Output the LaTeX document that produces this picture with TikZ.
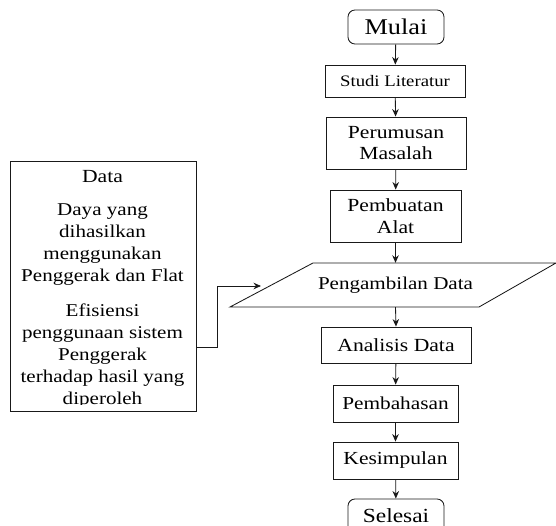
\documentclass[tikz,border=0pt]{standalone}
\usepackage{fontspec}
\setmainfont{Liberation Serif}[FakeStretch=1.17]
\usetikzlibrary{arrows.meta}
\begin{document}
\begin{tikzpicture}[x=1pt,y=-1pt,
  box/.style={draw=black!90, line width=0.85pt, inner sep=0pt, align=center},
  term/.style={box, rounded corners=7pt},
  arr/.style={draw=black!90, line width=0.85pt, -{Stealth[length=7.5pt,width=6.5pt]}},
]
\useasboundingbox (0,0) rectangle (556,526);
% main column
\node[term, minimum width=96pt, minimum height=34pt, font=\fontsize{22.5}{26}\selectfont] (mulai) at (396,27) {Mulai};
\node[box, minimum width=140pt, minimum height=32pt, font=\fontsize{16}{19}\selectfont] (studi) at (395,81) {Studi Literatur};
\node[box, minimum width=140pt, minimum height=52pt, font=\fontsize{18.5}{21}\selectfont] (rumus) at (396,143) {Perumusan\\Masalah};
\node[box, minimum width=131pt, minimum height=52pt, font=\fontsize{18.5}{22}\selectfont] (alat) at (395.5,216) {Pembuatan\\Alat};
\node[inner sep=0pt, minimum width=10pt, minimum height=44pt, font=\fontsize{18}{21}\selectfont] (pd) at (395.5,285) {Pengambilan Data};
\draw[black!90, line width=0.85pt] (pd.center) ++(-82.5,-22) -- ++(243,0) -- ++(-77,44) -- ++(-249,0) -- cycle;
\node[box, minimum width=150pt, minimum height=36pt, font=\fontsize{18.5}{21}\selectfont] (analisis) at (396,345) {Analisis Data};
\node[box, minimum width=125pt, minimum height=37pt, font=\fontsize{18.2}{21}\selectfont] (bahas) at (395.5,403.5) {Pembahasan};
\node[box, minimum width=125pt, minimum height=37pt, font=\fontsize{18.4}{21}\selectfont] (simpul) at (395.5,460.5) {Kesimpulan};
\node[term, minimum width=96pt, minimum height=34pt, font=\fontsize{20}{23}\selectfont] (selesai) at (396,516) {Selesai};
% arrows
\draw[arr] (mulai) -- (studi);
\draw[arr] (studi) -- (rumus);
\draw[arr] (rumus) -- (alat);
\draw[arr] (alat.south) -- (pd.north);
\draw[arr] (pd.south) -- (analisis.north);
\draw[arr] (analisis) -- (bahas);
\draw[arr] (bahas) -- (simpul);
\draw[arr] (simpul) -- (selesai);
% data box
\node[box, minimum width=186pt, minimum height=250pt] (data) at (103,286) {};
\node[font=\fontsize{18.5}{22}\selectfont, inner sep=0pt] (tdata) at (102.5,177) {Data};
\node[font=\fontsize{18}{22}\selectfont, inner sep=0pt, align=center] (tdaya) at (102.5,245) {Daya yang\\dihasilkan\\menggunakan\\Penggerak dan Flat};
\begin{scope}
\clip (0,0) rectangle (556,404.5);
\node[font=\fontsize{18}{22}\selectfont, inner sep=0pt, align=center, anchor=north] (tefis) at (102.5,303.5) {Efisiensi\\penggunaan sistem\\Penggerak\\terhadap hasil yang\\diperoleh};
\end{scope}
% feedback
\coordinate (fin) at (261,286);
\draw[arr] ([yshift=-61pt]data.east) -- ++(21,0) |- (fin);
\end{tikzpicture}
\end{document}
